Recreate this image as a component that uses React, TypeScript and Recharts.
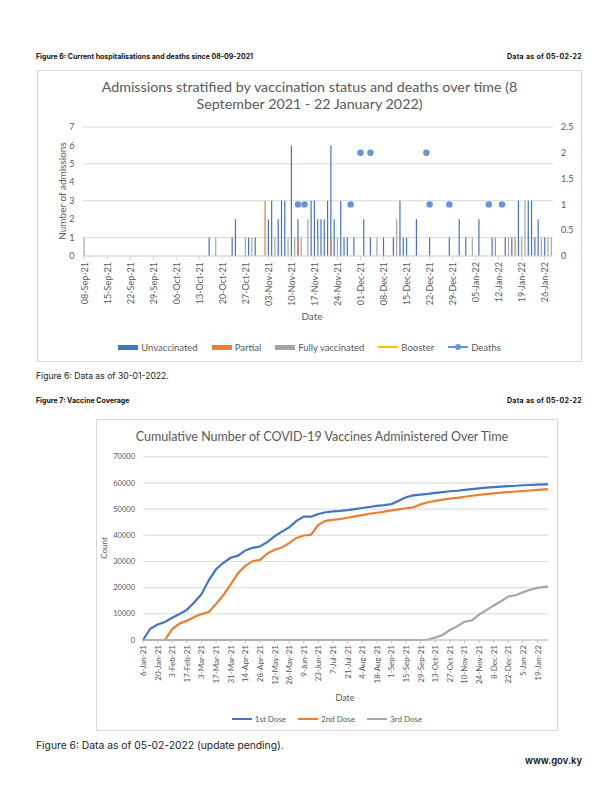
import React from "react";
import {
  ComposedChart,
  LineChart,
  Bar,
  Line,
  XAxis,
  YAxis,
  CartesianGrid,
} from "recharts";

// ---------- Figure 6: admissions by vaccination status and deaths ----------
// one category per day, 08-Sep-21 .. 28-Jan-22
const admissionDayCount = 143;
const admissionTickLabels = [
  "08-Sep-21", "15-Sep-21", "22-Sep-21", "29-Sep-21", "06-Oct-21", "13-Oct-21",
  "20-Oct-21", "27-Oct-21", "03-Nov-21", "10-Nov-21", "17-Nov-21", "24-Nov-21",
  "01-Dec-21", "08-Dec-21", "15-Dec-21", "22-Dec-21", "29-Dec-21", "05-Jan-22",
  "12-Jan-22", "19-Jan-22", "26-Jan-22",
];

// [day index from 08-Sep-21, count]
const unvaccinated: [number, number][] = [
  [38, 1], [45, 1], [46, 2], [50, 1], [52, 1], [56, 2], [57, 3], [59, 2], [60, 3], [61, 3],
  [63, 6], [65, 2], [69, 3], [70, 3], [71, 2], [72, 2], [73, 2], [74, 3], [75, 6], [76, 2],
  [78, 3], [79, 1], [80, 1], [82, 1], [85, 2], [87, 1], [91, 1], [94, 1], [96, 3], [97, 1],
  [98, 1], [101, 2], [105, 1], [111, 1], [114, 2], [116, 1], [120, 2], [124, 1], [128, 1],
  [130, 1], [132, 3], [135, 3], [136, 3], [137, 1], [138, 2], [140, 1],
];
const partial: [number, number][] = [[55, 3], [65, 1], [75, 1], [125, 1], [131, 1]];
const fullyVaccinated: [number, number][] = [
  [0, 1], [40, 1], [49, 1], [51, 1], [58, 1], [62, 1], [64, 1], [66, 1], [68, 2], [71, 1],
  [77, 1], [89, 1], [95, 2], [118, 1], [129, 1], [133, 1], [134, 3], [139, 1], [141, 1],
  [142, 1],
];
const deaths: [number, number][] = [
  [65, 1], [67, 1], [81, 1], [84, 2], [87, 2], [104, 2], [105, 1], [111, 1], [123, 1], [127, 1],
];

// ---------- Figure 7: cumulative vaccines ----------
const vaccineTickLabels = [
  "6-Jan-21", "20-Jan-21", "3-Feb-21", "17-Feb-21", "3-Mar-21", "17-Mar-21", "31-Mar-21",
  "14-Apr-21", "28-Apr-21", "12-May-21", "26-May-21", "9-Jun-21", "23-Jun-21", "7-Jul-21",
  "21-Jul-21", "4-Aug-21", "18-Aug-21", "1-Sep-21", "15-Sep-21", "29-Sep-21", "13-Oct-21",
  "27-Oct-21", "10-Nov-21", "24-Nov-21", "8-Dec-21", "22-Dec-21", "5-Jan-22", "19-Jan-22",
];
// days since 6-Jan-21
const vaccineDays = [
  0, 7, 14, 21, 28, 35, 42, 49, 56, 63, 70, 77, 84, 91, 98, 105, 112, 119, 126, 133,
  140, 147, 154, 161, 168, 175, 182, 189, 196, 203, 210, 217, 224, 231, 238, 245, 252, 259, 266, 273,
  280, 287, 294, 301, 308, 315, 322, 329, 336, 343, 350, 357, 364, 371, 378, 385, 388,
];
const firstDose = [
  0, 4300, 5900, 6900, 8500, 9900, 11500, 14300, 17500, 22800,
  27000, 29500, 31400, 32200, 34200, 35200, 35700, 37400, 39600, 41400,
  43000, 45500, 47100, 47100, 48100, 48800, 49100, 49300, 49600, 50000,
  50400, 50800, 51200, 51500, 51900, 53200, 54500, 55200, 55500, 55800,
  56200, 56500, 56800, 57000, 57300, 57600, 57900, 58200, 58400, 58600,
  58800, 58900, 59100, 59200, 59300, 59400, 59400,
];
const secondDose: (number | null)[] = [
  null, null, null, 0, 4200, 6300, 7300, 8800, 9900, 10700,
  13800, 17200, 21200, 25500, 28300, 30100, 30600, 33000, 34500, 35300,
  37000, 39000, 39900, 40200, 44000, 45500, 45900, 46200, 46700, 47200,
  47700, 48200, 48600, 49000, 49500, 49900, 50300, 50700, 51800, 52600,
  53100, 53600, 54000, 54300, 54700, 55100, 55400, 55700, 56000, 56300,
  56500, 56700, 56900, 57100, 57300, 57500, 57500,
];
const thirdDose = [
  0, 0, 0, 0, 0, 0, 0, 0, 0, 0,
  0, 0, 0, 0, 0, 0, 0, 0, 0, 0,
  0, 0, 0, 0, 0, 0, 0, 0, 0, 0,
  0, 0, 0, 0, 0, 0, 0, 0, 0, 200,
  900, 1900, 3800, 5200, 7000, 7500, 9700, 11400, 13200, 14800,
  16600, 17100, 18200, 19200, 19900, 20300, 20400,
];

const FONT = "Lato, 'Liberation Sans', sans-serif";
const PAGE_FONT = "Inter, 'Liberation Sans', sans-serif";
const INK = "#595959";
const GRID = "#d9d9d9";

const lookup = (pairs: [number, number][]) => new Map(pairs);
const unvMap = lookup(unvaccinated);
const parMap = lookup(partial);
const fullMap = lookup(fullyVaccinated);
const deathMap = lookup(deaths);

const admissionData = Array.from({ length: admissionDayCount }, (_, day) => ({
  day,
  unvaccinated: unvMap.get(day) ?? 0,
  partial: parMap.get(day) ?? 0,
  fully: fullMap.get(day) ?? 0,
  deaths: deathMap.get(day) ?? null,
}));

const vaccineData = vaccineDays.map((day, i) => ({
  day,
  first: firstDose[i],
  second: secondDose[i],
  third: thirdDose[i],
}));

function VerticalTick(props: any) {
  const { x, y, payload, labels, step, fontSize } = props;
  const label = labels[Math.round(payload.value / step)];
  if (label === undefined) return null;
  return (
    <text
      x={x}
      y={y}
      transform={`rotate(-90 ${x} ${y})`}
      textAnchor="end"
      dominantBaseline="central"
      fontSize={fontSize}
      fontFamily={FONT}
      fill={INK}
    >
      {label}
    </text>
  );
}

function Txt({
  x,
  y,
  anchor = "start",
  rotate = 0,
  style,
  children,
}: {
  x: number;
  y: number;
  anchor?: "start" | "middle" | "end";
  rotate?: number;
  style?: React.CSSProperties;
  children: React.ReactNode;
}) {
  const tx = anchor === "start" ? "0" : anchor === "middle" ? "-50%" : "-100%";
  return (
    <div
      style={{
        position: "absolute",
        left: x,
        top: y,
        transform: `translate(${tx}, -50%) rotate(${rotate}deg)`,
        whiteSpace: "nowrap",
        lineHeight: 1,
        ...style,
      }}
    >
      {children}
    </div>
  );
}

function Frame({ left, top, width, height }: { left: number; top: number; width: number; height: number }) {
  return (
    <div
      style={{
        position: "absolute",
        left,
        top,
        width,
        height,
        border: `1px solid ${GRID}`,
        boxSizing: "border-box",
      }}
    />
  );
}

function Swatch({ kind, color }: { kind: "box" | "line" | "dot"; color: string }) {
  if (kind === "box")
    return <span style={{ display: "inline-block", width: 20, height: 5, background: color }} />;
  return (
    <span style={{ position: "relative", display: "inline-block", width: 20, height: 6 }}>
      <span style={{ position: "absolute", left: 0, top: 2, width: 20, height: 2, background: color }} />
      {kind === "dot" && (
        <span
          style={{
            position: "absolute",
            left: 7,
            top: 0,
            width: 6,
            height: 6,
            borderRadius: 3,
            background: color,
          }}
        />
      )}
    </span>
  );
}

function LegendRow({
  items,
  left,
  width,
  y,
  fontSize,
  gap,
}: {
  items: { label: string; color: string; kind: "box" | "line" | "dot" }[];
  left: number;
  width: number;
  y: number;
  fontSize: number;
  gap: number;
}) {
  return (
    <div
      style={{
        position: "absolute",
        left,
        width,
        top: y - 6,
        height: 12,
        display: "flex",
        justifyContent: "center",
        alignItems: "center",
        gap,
        fontFamily: FONT,
        fontSize,
        color: INK,
      }}
    >
      {items.map((it) => (
        <span key={it.label} style={{ display: "flex", alignItems: "center", gap: 3 }}>
          <Swatch kind={it.kind} color={it.color} />
          <span>{it.label}</span>
        </span>
      ))}
    </div>
  );
}

const headStyle: React.CSSProperties = { fontFamily: PAGE_FONT, fontSize: 7, fontWeight: 700, color: "#111" };
const asOfStyle: React.CSSProperties = { ...headStyle, letterSpacing: 0.3 };

export default function App() {
  return (
    <div style={{ position: "absolute", left: 0, top: 0, width: 612, height: 791, background: "#fff" }}>
      {/* ---------------- Figure 6 ---------------- */}
      <Txt x={36} y={56} style={headStyle}>
        Figure 6: Current hospitalisations and deaths since 08-09-2021
      </Txt>
      <Txt x={582} y={56} anchor="end" style={asOfStyle}>
        Data as of 05-02-22
      </Txt>

      <Frame left={37} top={70} width={545} height={292} />
      <div
        style={{
          position: "absolute",
          left: 37,
          top: 78,
          width: 545,
          textAlign: "center",
          fontFamily: FONT,
          fontSize: 14.3,
          lineHeight: "17px",
          color: INK,
        }}
      >
        Admissions stratified by vaccination status and deaths over time (8
        <br />
        September 2021 - 22 January 2022)
      </div>

      <div style={{ position: "absolute", left: 37, top: 70 }}>
        <ComposedChart
          width={545}
          height={292}
          data={admissionData}
          margin={{ top: 57, right: 0, bottom: 46, left: 0 }}
          barGap={-1.2}
        >
          <CartesianGrid yAxisId="left" vertical={false} stroke={GRID} />
          <XAxis
            dataKey="day"
            interval={6}
            height={60}
            tickSize={4}
            tickMargin={2}
            axisLine={{ stroke: GRID }}
            tickLine={{ stroke: GRID }}
            tick={(p: any) => (
              <VerticalTick {...p} labels={admissionTickLabels} step={7} fontSize={9} />
            )}
          />
          <YAxis
            yAxisId="left"
            width={45.5}
            domain={[0, 7]}
            ticks={[0, 1, 2, 3, 4, 5, 6, 7]}
            axisLine={false}
            tickLine={false}
            tick={{ fill: INK, fontSize: 9, fontFamily: FONT }}
          />
          <YAxis
            yAxisId="right"
            orientation="right"
            width={29}
            domain={[0, 2.5]}
            ticks={[0, 0.5, 1, 1.5, 2, 2.5]}
            axisLine={false}
            tickLine={false}
            tick={{ fill: INK, fontSize: 9, fontFamily: FONT }}
          />
          <Bar yAxisId="left" dataKey="unvaccinated" fill="#4472C4" barSize={1.2} isAnimationActive={false} />
          <Bar yAxisId="left" dataKey="partial" fill="#ED7D31" barSize={1.2} isAnimationActive={false} />
          <Bar yAxisId="left" dataKey="fully" fill="#A5A5A5" barSize={1.2} isAnimationActive={false} />
          <Line
            yAxisId="right"
            dataKey="deaths"
            stroke="none"
            dot={{ r: 3.2, fill: "#6495d8", stroke: "#6495d8", strokeWidth: 0 }}
            activeDot={false}
            isAnimationActive={false}
          />
        </ComposedChart>
      </div>

      <Txt x={62} y={191} anchor="middle" rotate={-90} style={{ fontFamily: FONT, fontSize: 10, color: INK }}>
        Number of admissions
      </Txt>
      <Txt x={312} y={316} anchor="middle" style={{ fontFamily: FONT, fontSize: 10, color: INK }}>
        Date
      </Txt>
      <LegendRow
        left={37}
        width={545}
        y={347}
        fontSize={9.5}
        gap={14}
        items={[
          { label: "Unvaccinated", color: "#4472C4", kind: "box" },
          { label: "Partial", color: "#ED7D31", kind: "box" },
          { label: "Fully vaccinated", color: "#A5A5A5", kind: "box" },
          { label: "Booster", color: "#FFC000", kind: "line" },
          { label: "Deaths", color: "#6495d8", kind: "dot" },
        ]}
      />

      <Txt x={36} y={376} style={{ fontFamily: PAGE_FONT, fontSize: 8.6, color: "#222" }}>
        Figure 6: Data as of 30-01-2022.
      </Txt>

      {/* ---------------- Figure 7 ---------------- */}
      <Txt x={36} y={400} style={headStyle}>
        Figure 7: Vaccine Coverage
      </Txt>
      <Txt x={582} y={400} anchor="end" style={asOfStyle}>
        Data as of 05-02-22
      </Txt>

      <Frame left={96} top={419} width={462} height={312} />
      <Txt x={322} y={437} anchor="middle" style={{ fontFamily: FONT, fontSize: 12.5, color: INK }}>
        Cumulative Number of COVID-19 Vaccines Administered Over Time
      </Txt>

      <div style={{ position: "absolute", left: 100, top: 419 }}>
        <LineChart
          width={458}
          height={312}
          data={vaccineData}
          margin={{ top: 37.7, right: 10, bottom: 46, left: 0 }}
        >
          <CartesianGrid vertical={false} stroke={GRID} />
          <XAxis
            dataKey="day"
            type="number"
            domain={[0, 388]}
            ticks={vaccineTickLabels.map((_, i) => i * 14)}
            interval={0}
            height={45}
            tickSize={3}
            tickMargin={2}
            axisLine={{ stroke: "#bfbfbf" }}
            tickLine={{ stroke: "#bfbfbf" }}
            tick={(p: any) => (
              <VerticalTick {...p} labels={vaccineTickLabels} step={14} fontSize={8} />
            )}
          />
          <YAxis
            width={43}
            domain={[0, 70000]}
            ticks={[0, 10000, 20000, 30000, 40000, 50000, 60000, 70000]}
            axisLine={false}
            tickLine={false}
            tick={{ fill: INK, fontSize: 7.5, fontFamily: FONT }}
          />
          <Line dataKey="third" stroke="#A5A5A5" strokeWidth={2.2} dot={false} isAnimationActive={false} />
          <Line dataKey="second" stroke="#ED7D31" strokeWidth={2.2} dot={false} isAnimationActive={false} />
          <Line dataKey="first" stroke="#4472C4" strokeWidth={2.2} dot={false} isAnimationActive={false} />
        </LineChart>
      </div>

      <Txt x={104} y={548} anchor="middle" rotate={-90} style={{ fontFamily: FONT, fontSize: 8, color: INK }}>
        Count
      </Txt>
      <Txt x={345} y={697} anchor="middle" style={{ fontFamily: FONT, fontSize: 9, color: INK }}>
        Date
      </Txt>
      <LegendRow
        left={96}
        width={462}
        y={719}
        fontSize={8}
        gap={12}
        items={[
          { label: "1st Dose", color: "#4472C4", kind: "line" },
          { label: "2nd Dose", color: "#ED7D31", kind: "line" },
          { label: "3rd Dose", color: "#A5A5A5", kind: "line" },
        ]}
      />

      <Txt x={36} y={745} style={{ fontFamily: PAGE_FONT, fontSize: 10.3, color: "#222" }}>
        Figure 6: Data as of 05-02-2022 (update pending).
      </Txt>
      <Txt x={582} y={761} anchor="end" style={{ fontFamily: PAGE_FONT, fontSize: 9.5, fontWeight: 600, color: "#111" }}>
        www.gov.ky
      </Txt>
    </div>
  );
}
